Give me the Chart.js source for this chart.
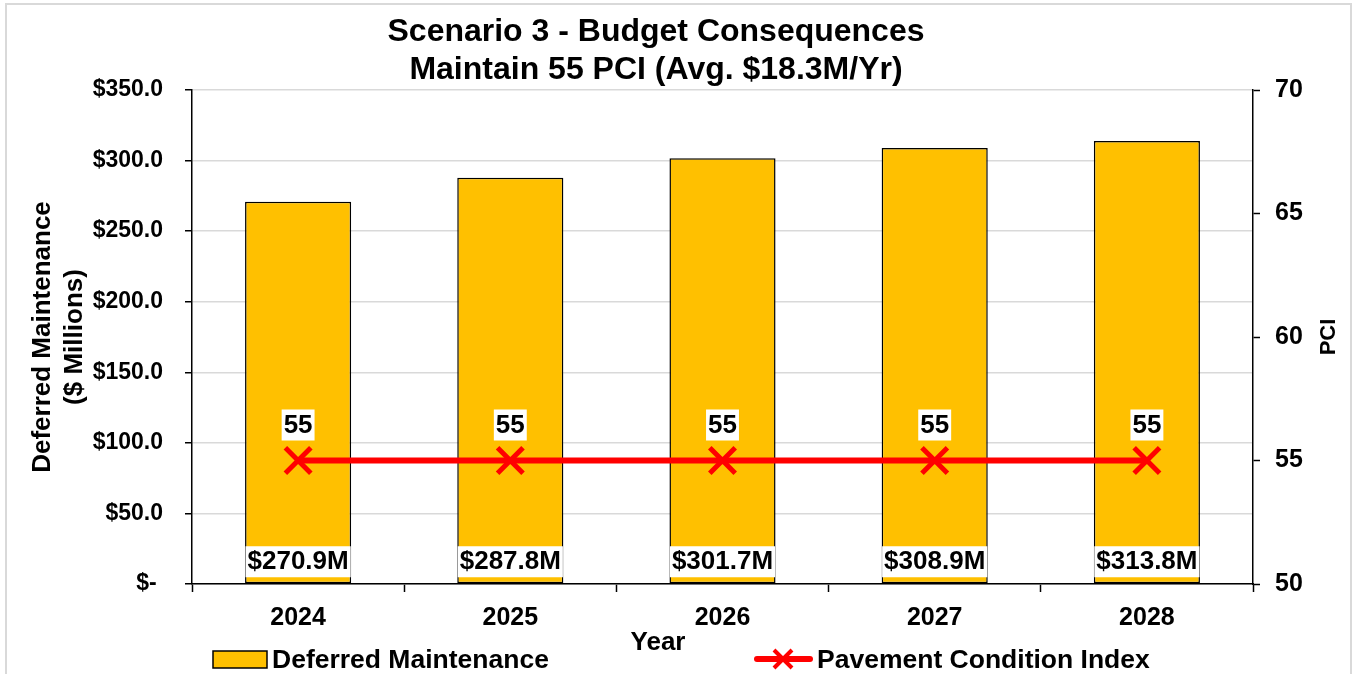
<!DOCTYPE html>
<html>
<head>
<meta charset="utf-8">
<script src="https://cdn.jsdelivr.net/npm/chart.js@4.4.1/dist/chart.umd.min.js"></script>
<style>
    body { margin: 0; background: #fff; }
    #wrap { position: relative; width: 1353px; height: 674px; overflow: hidden; }
    #frame { position: absolute; left: 5px; top: 3px; width: 1343px; height: 700px; border: 2px solid #d9d9d9; }
    canvas { position: absolute; left: 0; top: 0; }
</style>
</head>
<body>
<div id="wrap">
    <div id="frame"></div>
    <canvas id="budgetChart" width="1353" height="674"></canvas>
</div>
<script>
const years = ['2024', '2025', '2026', '2027', '2028'];
const deferredMaintenance = [270.9, 287.8, 301.7, 308.9, 313.8];
const pciValues = [55, 55, 55, 55, 55];
const titleLines = ['Scenario 3 - Budget Consequences', 'Maintain 55 PCI (Avg. $18.3M/Yr)'];
const leftAxisTitle = ['Deferred Maintenance', '($ Millions)'];
const rightAxisTitle = 'PCI';
const xAxisTitle = 'Year';

const FONT = "'Liberation Sans', Arial, sans-serif";
const BAR_COLOR = '#FFC000';
const LINE_COLOR = '#FF0000';

const font = (size) => `bold ${size}px ${FONT}`;

const drawBox = (ctx, text, x, y, size) => {
    ctx.font = font(size);
    const w = ctx.measureText(text).width;
    ctx.fillStyle = '#fff';
    ctx.fillRect(x - w / 2 - 2, y - 15, w + 4, 31);
    ctx.fillStyle = '#000';
    ctx.textAlign = 'center';
    ctx.textBaseline = 'middle';
    ctx.fillText(text, x, y + 1);
};

// value labels, titles and legend drawn on top
const labelPlugin = {
    id: 'labelPlugin',
    afterDatasetsDraw(chart) {
        const ctx = chart.ctx;
        ctx.save();
        chart.data.datasets.forEach((ds, i) => {
            const meta = chart.getDatasetMeta(i);
            meta.data.forEach((el, j) => {
                if (ds.type === 'bar') {
                    drawBox(ctx, '$' + ds.data[j].toFixed(1) + 'M', el.x, el.base - 22, 26);
                } else {
                    drawBox(ctx, String(ds.data[j]), el.x, el.y - 36, 26);
                }
            });
        });
        ctx.restore();
    },
    afterDraw(chart) {
        const ctx = chart.ctx;
        ctx.save();
        ctx.fillStyle = '#000';
        ctx.textAlign = 'center';
        ctx.textBaseline = 'alphabetic';
        ctx.font = font(32);
        ctx.fillText(titleLines[0], 656, 41);
        ctx.fillText(titleLines[1], 656, 79);

        ctx.font = font(26);
        ctx.fillText(xAxisTitle, 658, 650);

        // right axis title, reading upward
        ctx.save();
        ctx.translate(1335, 337);
        ctx.rotate(-Math.PI / 2);
        ctx.font = font(22);
        ctx.fillText(rightAxisTitle, 0, 0);
        ctx.restore();

        // legend
        const barDs = chart.data.datasets[1];
        const lineDs = chart.data.datasets[0];
        ctx.fillStyle = BAR_COLOR;
        ctx.fillRect(213, 651, 54, 17);
        ctx.strokeStyle = '#000';
        ctx.lineWidth = 1.5;
        ctx.strokeRect(213, 651, 54, 17);
        ctx.fillStyle = '#000';
        ctx.textAlign = 'left';
        ctx.font = font(26.5);
        ctx.fillText(barDs.label, 272, 668);

        ctx.strokeStyle = LINE_COLOR;
        ctx.lineWidth = 6;
        ctx.lineCap = 'round';
        ctx.beginPath();
        ctx.moveTo(757, 659);
        ctx.lineTo(810, 659);
        ctx.stroke();
        ctx.lineWidth = 4;
        ctx.lineCap = 'butt';
        ctx.beginPath();
        ctx.moveTo(774, 650); ctx.lineTo(792, 668);
        ctx.moveTo(792, 650); ctx.lineTo(774, 668);
        ctx.stroke();
        ctx.fillText(lineDs.label, 817, 668);
        ctx.restore();
    }
};

new Chart(document.getElementById('budgetChart'), {
    data: {
        labels: years,
        datasets: [{
            type: 'line',
            label: 'Pavement Condition Index',
            data: pciValues,
            yAxisID: 'y1',
            borderColor: LINE_COLOR,
            borderWidth: 6,
            pointStyle: 'crossRot',
            pointRadius: 18,
            pointBorderWidth: 5,
            pointBorderColor: LINE_COLOR,
            pointBackgroundColor: LINE_COLOR,
            order: 1
        }, {
            type: 'bar',
            label: 'Deferred Maintenance',
            data: deferredMaintenance,
            yAxisID: 'y',
            backgroundColor: BAR_COLOR,
            borderColor: '#000',
            borderWidth: 1.5,
            borderSkipped: false,
            categoryPercentage: 1,
            barPercentage: 0.5,
            order: 2
        }]
    },
    options: {
        responsive: false,
        animation: false,
        devicePixelRatio: 1,
        layout: { padding: { top: 90, left: 0, right: 0, bottom: 0 } },
        plugins: {
            legend: { display: false },
            title: { display: false },
            tooltip: { enabled: false }
        },
        scales: {
            x: {
                offset: true,
                grid: { offset: true, drawOnChartArea: false, tickLength: 8, tickColor: '#000', tickWidth: 1.5 },
                border: { color: '#000', width: 1.5 },
                ticks: { color: '#000', font: { family: FONT, size: 25, weight: 'bold' }, padding: 11 },
                afterFit: (s) => { s.height = 90; }
            },
            y: {
                position: 'left',
                min: 0,
                max: 350,
                ticks: {
                    stepSize: 50,
                    color: '#000',
                    padding: 22,
                    font: { family: FONT, size: 23, weight: 'bold' },
                    callback: (v) => v === 0 ? '$- ' : '$' + v.toFixed(1)
                },
                grid: { color: '#d9d9d9', lineWidth: 1.5, tickLength: 7, tickColor: '#000', tickWidth: 1.5 },
                border: { color: '#000', width: 1.5 },
                title: {
                    display: true,
                    text: leftAxisTitle,
                    color: '#000',
                    font: { family: FONT, size: 26, weight: 'bold', lineHeight: 1.23 },
                    padding: { top: 27, bottom: 0 }
                },
                afterFit: (s) => { s.width = 192; }
            },
            y1: {
                position: 'right',
                min: 50,
                max: 70,
                ticks: {
                    stepSize: 5,
                    color: '#000',
                    padding: 15,
                    font: { family: FONT, size: 25, weight: 'bold' }
                },
                grid: { drawOnChartArea: false, tickLength: 7, tickColor: '#000', tickWidth: 1.5 },
                border: { color: '#000', width: 1.5 },
                afterFit: (s) => { s.width = 100; }
            }
        }
    },
    plugins: [labelPlugin]
});
</script>
</body>
</html>
